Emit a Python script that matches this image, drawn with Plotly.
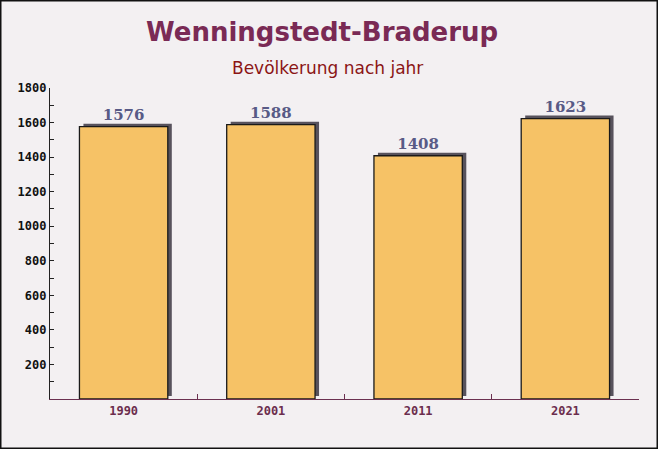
import plotly.graph_objects as go

years = ["1990", "2001", "2011", "2021"]
population = [1576, 1588, 1408, 1623]

title_text = "Wenningstedt-Braderup"
subtitle_text = "Bevölkerung nach jahr"
y_ticks = [200, 400, 600, 800, 1000, 1200, 1400, 1600, 1800]

W, H = 658, 449
ml, mr, mt, mb = 50, 19, 88, 50
pw = W - ml - mr
plot_h = H - mt - mb
ymax = 1800
shift = 3 * ymax / plot_h  # shadow offset up (~3 px)
bar_w = 0.6
dx = 4 / (pw / len(years))

fig = go.Figure()

# shadow bars (3D effect), drawn on the base axis (below)
fig.add_trace(go.Bar(
    x=years, y=population, yaxis="y",
    width=bar_w, offset=-bar_w / 2 + dx,
    marker=dict(color="#57525c", line=dict(width=0)),
    hoverinfo="skip", showlegend=False,
))

# main bars on overlaying axis (drawn above)
fig.add_trace(go.Bar(
    x=years, y=population, yaxis="y2",
    width=bar_w, offset=-bar_w / 2,
    marker=dict(color="#f6c266", line=dict(color="#1a1a1a", width=1.3)),
    text=[str(v) for v in population],
    textposition="outside",
    textfont=dict(family="DejaVu Serif", size=15, color="#585a86", weight="bold"),
    cliponaxis=False,
    showlegend=False,
))


def px_x(px):
    return (px - ml) / pw


def px_y(py):
    return 1 + (mt - py) / plot_h


fig.update_layout(
    width=W, height=H,
    margin=dict(l=ml, r=mr, t=mt, b=mb, autoexpand=False),
    paper_bgcolor="#f3f0f2",
    plot_bgcolor="rgba(0,0,0,0)",
    barmode="overlay",
    xaxis=dict(
        type="category", automargin=False,
        showgrid=False, zeroline=False,
        showline=True, linecolor="#6b3050", linewidth=1.3,
        ticks="inside", ticklen=5, tickcolor="#6b3050",
        tickson="boundaries",
        tickfont=dict(family="DejaVu Sans Mono", size=12, color="#6b2d4d", weight="bold"),
    ),
    yaxis=dict(
        range=[-shift, ymax - shift], visible=False, automargin=False,
        showgrid=False, zeroline=False,
    ),
    yaxis2=dict(
        range=[0, ymax], overlaying="y", side="left", automargin=False,
        tickvals=y_ticks,
        showgrid=False, zeroline=False,
        showline=True, linecolor="#222", linewidth=1.3,
        ticks="inside", ticklen=4, tickcolor="#222",
        minor=dict(dtick=100, ticks="inside", ticklen=4, tickcolor="#222"),
        tickfont=dict(family="DejaVu Sans Mono", size=12, color="#111", weight="bold"),
    ),
    annotations=[
        dict(text="<b>" + title_text + "</b>", x=px_x(322), y=px_y(32), xref="paper", yref="paper",
             showarrow=False, yanchor="middle", font=dict(family="DejaVu Sans", size=26, color="#7a2a55")),
        dict(text=subtitle_text, x=px_x(327), y=px_y(68), xref="paper", yref="paper",
             showarrow=False, yanchor="middle", font=dict(family="DejaVu Sans", size=17, color="#8b1515")),
    ],
    shapes=[dict(type="rect", xref="paper", yref="paper",
                 x0=px_x(0.75), x1=px_x(W - 0.75),
                 y0=px_y(H - 0.75), y1=px_y(0.75),
                 line=dict(color="#111", width=1.5), fillcolor="rgba(0,0,0,0)", layer="above")],
)

fig.write_html("out.html", config={"displayModeBar": False},
               post_script="document.body.style.margin='0';document.body.style.overflow='hidden';")
